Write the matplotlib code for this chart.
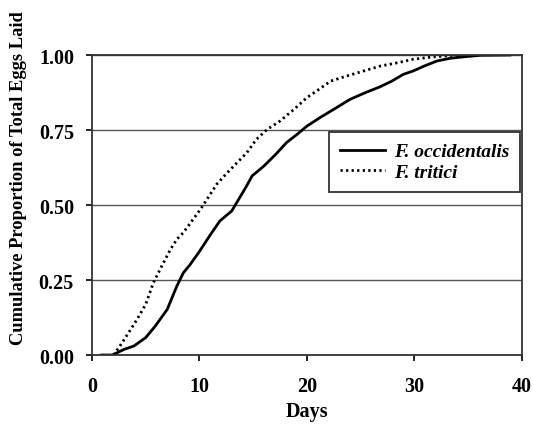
import numpy as np
import matplotlib
matplotlib.use("Agg")
import matplotlib.pyplot as plt

# cumulative oviposition curves (days vs. proportion of total eggs laid)
occ_days = [0.9, 1.9, 3.0, 3.9, 5.0, 5.9, 7.0, 7.9, 8.5, 9.1, 9.9, 11.0, 11.9, 13.0,
            13.5, 14.3, 14.9, 16.0, 17.1, 18.1, 19.1, 20.0, 21.2, 22.5, 24.0, 25.4,
            26.8, 27.9, 29.0, 29.9, 30.9, 32.1, 33.3, 34.6, 36.1, 38.9]
occ_prop = [0.0, 0.0, 0.019, 0.03, 0.058, 0.097, 0.152, 0.23, 0.274, 0.30, 0.34, 0.40,
            0.447, 0.48, 0.51, 0.558, 0.597, 0.63, 0.669, 0.708, 0.736, 0.763, 0.791,
            0.819, 0.852, 0.874, 0.894, 0.913, 0.936, 0.947, 0.963, 0.98, 0.989, 0.994,
            0.999, 1.0]

tri_days = [2.0, 2.6, 3.4, 4.2, 5.0, 5.7, 6.5, 7.3, 7.9, 8.5, 9.3, 10.1, 10.9, 11.6,
            12.6, 13.5, 14.4, 15.3, 16.3, 17.5, 18.8, 20.0, 20.9, 22.2, 23.7, 25.3,
            26.8, 28.4, 29.9, 31.8, 33.6, 35.5]
tri_prop = [0.0, 0.03, 0.074, 0.119, 0.169, 0.24, 0.297, 0.352, 0.386, 0.408, 0.447,
            0.486, 0.53, 0.569, 0.608, 0.641, 0.674, 0.719, 0.752, 0.78, 0.819, 0.858,
            0.88, 0.913, 0.93, 0.947, 0.963, 0.974, 0.986, 0.994, 0.999, 1.0]

x_ticks = [0, 10, 20, 30, 40]
y_ticks = [0.0, 0.25, 0.5, 0.75, 1.0]
y_ticklabels = ["0.00", "0.25", "0.50", "0.75", "1.00"]

plt.rcParams["font.family"] = ["Liberation Serif", "DejaVu Serif"]
plt.rcParams["font.weight"] = "bold"

fig = plt.figure(figsize=(5.33, 4.31), dpi=100)
ax = fig.add_axes([0.1726, 0.174, 0.8064, 0.696])

ax.plot(occ_days, occ_prop, color="black", lw=2.0, label="F. occidentalis")
ax.plot(tri_days, tri_prop, color="black", lw=2.0, ls=(0, (0.8, 1.2)), label="F. tritici")

ax.set_xlim(0, 40)
ax.set_ylim(0, 1.0)
ax.set_xticks(x_ticks)
ax.set_yticks(y_ticks)
ax.set_yticklabels(y_ticklabels)
ax.tick_params(axis="both", direction="out", length=4, width=1.2, labelsize=14.5)
ax.tick_params(axis="x", pad=11)
ax.tick_params(axis="y", pad=9)
for lbl in ax.get_xticklabels() + ax.get_yticklabels():
    lbl.set_fontweight("bold")

ax.yaxis.grid(True, color="#555555", lw=1.0)
ax.set_axisbelow(True)
for s in ax.spines.values():
    s.set_linewidth(1.3)
    s.set_color("#333333")

ax.set_xlabel("Days", fontsize=14.5, fontweight="bold", labelpad=4)
ax.set_ylabel("Cumulative Proportion of Total Eggs Laid", fontsize=13.3,
              fontweight="bold")
ax.yaxis.set_label_coords(-0.151, 0.593)

leg = ax.legend(loc="upper right", bbox_to_anchor=(0.995, 0.743), borderaxespad=0,
                frameon=True, fancybox=False, edgecolor="black", handlelength=2.3,
                borderpad=0.55, labelspacing=0.15, handletextpad=0.45,
                prop={"size": 14, "style": "italic", "weight": "bold"})
leg.get_frame().set_linewidth(1.3)

fig.savefig("out.png", dpi=100)
